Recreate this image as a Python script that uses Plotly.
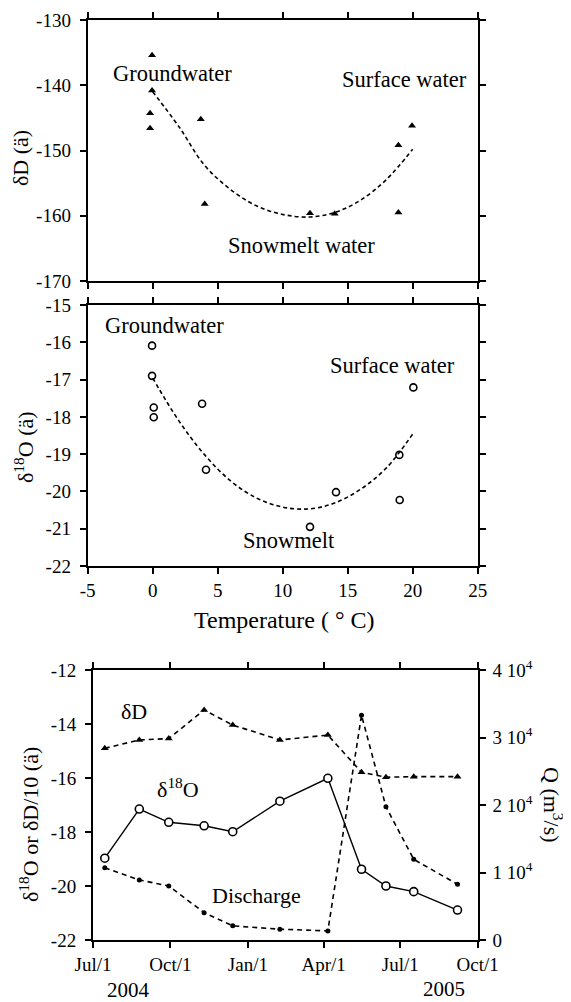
import plotly.graph_objects as go

W, H = 571, 1002
OFF = 8  # default page body margin in the written html
FW, FH = W - OFF, H - OFF
FONT = "Liberation Serif, Times New Roman, Tinos, DejaVu Serif, serif"

# ---------------- data ----------------
# Panel 1: deltaD vs temperature
t1 = [-0.05, -0.05, -0.2, -0.2, 3.7, 4.0, 12.1, 14.0, 18.9, 18.9, 19.95]
dD = [-135.4, -140.8, -144.3, -146.6, -145.2, -158.2, -159.6, -159.7, -149.2, -159.5, -146.2]
fit_t = [0, 2, 4, 6, 8, 10, 12, 14, 16, 18, 20]
fit_dD = [-141.0, -146.3, -152.3, -156.0, -158.5, -159.8, -160.2, -159.5, -157.6, -154.4, -149.8]

# Panel 2: delta18O vs temperature
t2 = [-0.05, -0.05, 0.08, 0.08, 3.8, 4.1, 12.1, 14.1, 18.97, 19.0, 20.05]
d18 = [-16.09, -16.9, -17.75, -18.01, -17.65, -19.42, -20.95, -20.02, -19.02, -20.23, -17.21]
fit_d18 = [-16.96, -18.1, -19.02, -19.72, -20.18, -20.42, -20.47, -20.31, -19.94, -19.36, -18.46]

# Panel 3: time series
dates = ["2004-07-15", "2004-08-25", "2004-09-29", "2004-11-10", "2004-12-14",
         "2005-02-08", "2005-04-06", "2005-05-16", "2005-06-14", "2005-07-17", "2005-09-07"]
ts_d18 = [-18.97, -17.15, -17.64, -17.77, -17.99, -16.86, -16.01, -19.38, -20.0, -20.21, -20.89]
ts_dD10 = [-14.9, -14.59, -14.54, -13.48, -14.04, -14.59, -14.41, -15.79, -15.97, -15.95, -15.95]
ts_Q = [10700, 8900, 8000, 4050, 2100, 1600, 1350, 33300, 19750, 11950, 8250]

temp_ticks = [-5, 0, 5, 10, 15, 20, 25]
temp_labels = ["-5", "0", "5", "10", "15", "20", "25"]
dD_ticks = [-170, -160, -150, -140, -130]
dD_labels = ["-170", "-160", "-150", "-140", "-130"]
d18_ticks = [-22, -21, -20, -19, -18, -17, -16, -15]
d18_labels = ["-22", "-21", "-20", "-19", "-18", "-17", "-16", "-15"]
date_ticks = ["2004-07-01", "2004-10-01", "2005-01-01", "2005-04-01", "2005-07-01", "2005-10-01"]
date_labels = ["Jul/1", "Oct/1", "Jan/1", "Apr/1", "Jul/1", "Oct/1"]
left3_ticks = [-22, -20, -18, -16, -14, -12]
left3_labels = ["-22", "-20", "-18", "-16", "-14", "-12"]
q_ticks = [0, 10000, 20000, 30000, 40000]
q_labels = ["0", "1 10<sup>4</sup>", "2 10<sup>4</sup>", "3 10<sup>4</sup>", "4 10<sup>4</sup>"]

# ---------------- geometry helpers (window pixels -> paper) ----------------
def fx(p):
    return (p - OFF) / FW

def fy(p):
    return 1 - (p - OFF) / FH

dom_x12 = [fx(87.7), fx(477.7)]
dom_y1 = [fy(281), fy(20)]
dom_y2 = [fy(566), fy(305)]
dom_x3 = [fx(93), fx(477.7)]
dom_y3 = [fy(940), fy(670)]

fig = go.Figure()

BLACK = "black"
# panel 1
fig.add_trace(go.Scatter(x=fit_t, y=fit_dD, mode="lines", xaxis="x", yaxis="y",
                         line=dict(color=BLACK, width=1.6, dash="4px,3px"), line_shape="spline"))
fig.add_trace(go.Scatter(x=t1, y=dD, mode="markers", xaxis="x", yaxis="y",
                         marker=dict(symbol="triangle-up", size=7, color=BLACK)))
# panel 2
fig.add_trace(go.Scatter(x=fit_t, y=fit_d18, mode="lines", xaxis="x2", yaxis="y2",
                         line=dict(color=BLACK, width=1.6, dash="4px,3px"), line_shape="spline"))
fig.add_trace(go.Scatter(x=t2, y=d18, mode="markers", xaxis="x2", yaxis="y2",
                         marker=dict(symbol="circle-open", size=7, color=BLACK,
                                     line=dict(width=1.6, color=BLACK))))
# panel 3
fig.add_trace(go.Scatter(x=dates, y=ts_dD10, mode="lines+markers", xaxis="x3", yaxis="y3",
                         line=dict(color=BLACK, width=1.6, dash="5px,4px"),
                         marker=dict(symbol="triangle-up", size=7, color=BLACK)))
fig.add_trace(go.Scatter(x=dates, y=ts_Q, mode="lines+markers", xaxis="x3", yaxis="y5",
                         line=dict(color=BLACK, width=1.6, dash="5px,4px"),
                         marker=dict(symbol="circle", size=5, color=BLACK)))
fig.add_trace(go.Scatter(x=dates, y=ts_d18, mode="lines+markers", xaxis="x3", yaxis="y3",
                         line=dict(color=BLACK, width=1.4),
                         marker=dict(symbol="circle", size=8, color="white",
                                     line=dict(width=1.6, color=BLACK))))

tickfont = dict(family=FONT, size=19, color=BLACK)
common = dict(showline=True, linecolor=BLACK, linewidth=2, ticklen=6, tickwidth=1.6,
              tickcolor=BLACK, showgrid=False, zeroline=False, tickfont=tickfont,
              automargin=False)

def out_in(main, over):
    a = dict(common); a.update(main); a.update(ticks="outside")
    b = dict(common); b.update(over); b.update(ticks="inside", showticklabels=False)
    return a, b

lay = {}
# panel 1
lay["xaxis"], lay["xaxis8"] = out_in(
    dict(domain=dom_x12, range=[-5, 25], anchor="y", tickvals=temp_ticks, mirror="ticks", showticklabels=False),
    dict(domain=dom_x12, range=[-5, 25], anchor="y", overlaying="x", tickvals=temp_ticks, mirror="ticks"))
lay["yaxis"], lay["yaxis8"] = out_in(
    dict(domain=dom_y1, range=[-170, -130], anchor="x", tickvals=dD_ticks, ticktext=dD_labels,
         mirror="ticks", ticklabelstandoff=5),
    dict(domain=dom_y1, range=[-170, -130], anchor="x", overlaying="y", tickvals=dD_ticks, mirror="ticks"))
# panel 2
lay["xaxis2"], lay["xaxis9"] = out_in(
    dict(domain=dom_x12, range=[-5, 25], anchor="y2", tickvals=temp_ticks, ticktext=temp_labels,
         mirror="ticks", ticklabelstandoff=0),
    dict(domain=dom_x12, range=[-5, 25], anchor="y2", overlaying="x2", tickvals=temp_ticks, mirror="ticks"))
lay["yaxis2"], lay["yaxis9"] = out_in(
    dict(domain=dom_y2, range=[-22, -15], anchor="x2", tickvals=d18_ticks, ticktext=d18_labels,
         mirror="ticks", ticklabelstandoff=5),
    dict(domain=dom_y2, range=[-22, -15], anchor="x2", overlaying="y2", tickvals=d18_ticks, mirror="ticks"))
# panel 3
lay["xaxis3"], lay["xaxis6"] = out_in(
    dict(domain=dom_x3, range=["2004-07-01", "2005-10-01"], anchor="y3", type="date",
         tickvals=date_ticks, ticktext=date_labels, mirror="ticks", ticklabelstandoff=0),
    dict(domain=dom_x3, range=["2004-07-01", "2005-10-01"], anchor="y3", type="date",
         overlaying="x3", tickvals=date_ticks, mirror="ticks"))
lay["yaxis3"], lay["yaxis6"] = out_in(
    dict(domain=dom_y3, range=[-22, -12], anchor="x3", tickvals=left3_ticks, ticktext=left3_labels,
         side="left", ticklabelstandoff=5),
    dict(domain=dom_y3, range=[-22, -12], anchor="x3", overlaying="y3", tickvals=left3_ticks, side="left"))
lay["yaxis5"], lay["yaxis7"] = out_in(
    dict(domain=dom_y3, range=[0, 40000], anchor="x3", overlaying="y3", side="right",
         tickvals=q_ticks, ticktext=q_labels, ticklabelstandoff=3),
    dict(domain=dom_y3, range=[0, 40000], anchor="x3", overlaying="y3", side="right", tickvals=q_ticks))


def ann(text, x, y, size=22, angle=0):
    return dict(text=text, x=fx(x), y=fy(y), xref="paper", yref="paper", showarrow=False,
                xanchor="center", yanchor="middle", textangle=angle, borderpad=0,
                font=dict(family=FONT, size=size, color=BLACK))

annotations = [
    ann("Groundwater", 172.7, 74, size=22.5),
    ann("Surface water", 404.3, 79.5, size=22.5),
    ann("Snowmelt water", 301.8, 245.8, size=22.5),
    ann("Groundwater", 164, 325.8, size=22.5),
    ann("Surface water", 392.3, 365.8, size=22.5),
    ann("Snowmelt", 289, 540, size=22.5),
    ann("Temperature ( \u00b0 C)", 284, 620, size=24),
    ann("\u03b4D (\u00e4)", 20, 158, angle=-90),
    ann("\u03b4<sup>18</sup>O (\u00e4)", 24, 447, angle=-90),
    ann("\u03b4<sup>18</sup>O or \u03b4D/10 (\u00e4)", 29, 825, angle=-90),
    ann("Q (m<sup>3</sup>/s)", 553, 805, angle=90),
    ann("\u03b4D", 134, 711),
    ann("\u03b4<sup>18</sup>O", 178, 788),
    ann("Discharge", 256, 895),
    ann("2004", 128.3, 989.5, size=21),
    ann("2005", 443.8, 988.5, size=21),
]

fig.update_layout(width=FW, height=FH, margin=dict(l=0, r=0, t=0, b=0, autoexpand=False),
                  paper_bgcolor="white", plot_bgcolor="white", showlegend=False,
                  annotations=annotations, font=dict(family=FONT, color=BLACK), **lay)

fig.write_html("out.html")
